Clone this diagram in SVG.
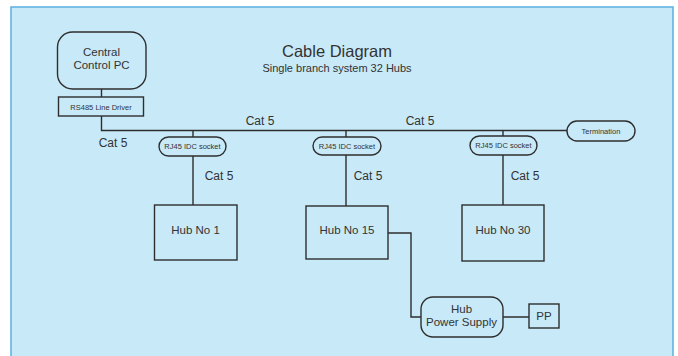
<svg xmlns="http://www.w3.org/2000/svg" width="678" height="356" viewBox="0 0 678 356">
<style>
.n{fill:none;stroke:#2e2e2e;stroke-width:1.4}
.c{fill:none;stroke:#2e2e2e;stroke-width:1.4}
text{font-family:"Liberation Sans",Arial,sans-serif;fill:#333;text-anchor:middle}
.t12{font-size:11.5px}
.t7{font-size:7.5px}
.lbl{font-size:12px}
</style>
<rect x="11" y="7" width="662" height="360" fill="#c8e9f8" stroke="#5ab0e0" stroke-width="1.5"/>
<g id="title">
<text x="337" y="56.5" style="font-size:16.5px">Cable Diagram</text>
<text x="337" y="72" style="font-size:11px">Single branch system 32 Hubs</text>
</g>
<g id="connectors">
<path class="c" d="M101.5 89V97M101.5 116V130.5H567"/>
<path class="c" d="M193 130.5V137M193 156V205"/>
<path class="c" d="M346 130.5V137M346 155V206"/>
<path class="c" d="M503 130.5V136M503 155V205"/>
<path class="c" d="M388 233H411V317H421M503 317H529"/>
<text class="lbl" x="260" y="125">Cat 5</text>
<text class="lbl" x="420" y="125">Cat 5</text>
<text class="lbl" x="113" y="147">Cat 5</text>
<text class="lbl" x="219" y="180">Cat 5</text>
<text class="lbl" x="368" y="180">Cat 5</text>
<text class="lbl" x="525" y="180">Cat 5</text>
</g>
<g id="pc">
<rect class="n" x="57.5" y="32" width="88.5" height="57" rx="15"/>
<text class="t12" x="101.5" y="55.5">Central</text>
<text class="t12" x="101.5" y="68.5">Control PC</text>
</g>
<g id="rs485">
<rect class="n" x="58.5" y="97" width="85" height="19"/>
<text class="t7" x="101" y="109.5">RS485 Line Driver</text>
</g>
<g id="termination">
<rect class="n" x="567" y="121" width="68" height="20" rx="10"/>
<text class="t7" x="601" y="133.5">Termination</text>
</g>
<g id="rj45-1">
<rect class="n" x="159" y="137" width="67" height="19" rx="9.5"/>
<text class="t7" x="192.5" y="149">RJ45 IDC socket</text>
</g>
<g id="rj45-2">
<rect class="n" x="313" y="137" width="68" height="18" rx="9"/>
<text class="t7" x="347" y="148.5">RJ45 IDC socket</text>
</g>
<g id="rj45-3">
<rect class="n" x="470" y="136" width="67" height="19" rx="9.5"/>
<text class="t7" x="503.5" y="148">RJ45 IDC socket</text>
</g>
<g id="hub1">
<rect class="n" x="154.5" y="205" width="82.5" height="55"/>
<text class="t12" x="195.5" y="234">Hub No 1</text>
</g>
<g id="hub15">
<rect class="n" x="306" y="206" width="82" height="53"/>
<text class="t12" x="347" y="234">Hub No 15</text>
</g>
<g id="hub30">
<rect class="n" x="462" y="205" width="82" height="56"/>
<text class="t12" x="503" y="234">Hub No 30</text>
</g>
<g id="power-supply">
<rect class="n" x="421" y="297" width="82" height="40" rx="12"/>
<text class="t12" x="461.5" y="313">Hub</text>
<text class="t12" x="461.5" y="326">Power Supply</text>
</g>
<g id="pp">
<rect class="n" x="529" y="304" width="30" height="24"/>
<text class="t12" x="544" y="320">PP</text>
</g>
</svg>
